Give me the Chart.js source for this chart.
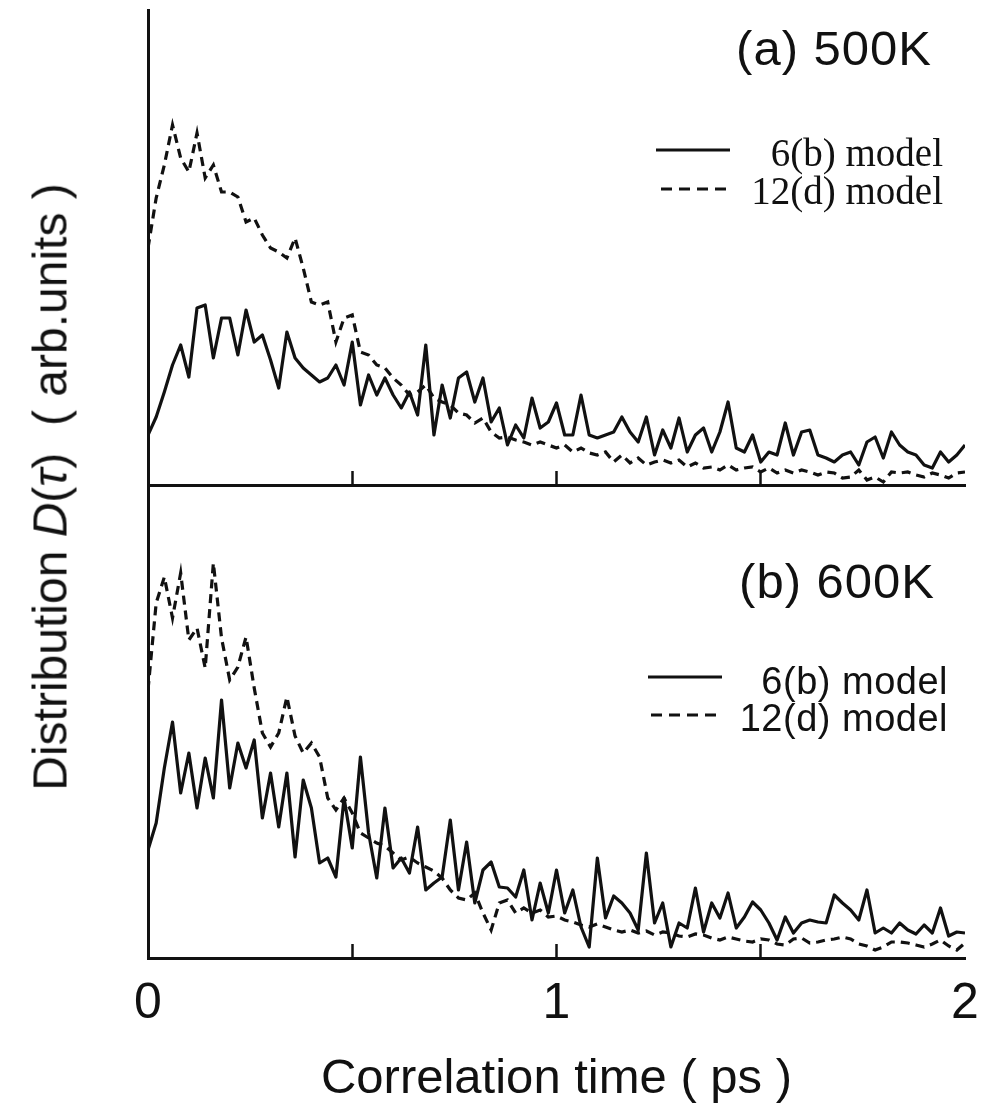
<!DOCTYPE html>
<html lang="en">
<head>
<meta charset="UTF-8">
<title>Distribution of correlation times</title>
<script src="https://cdn.jsdelivr.net/npm/chart.js"></script>
<style>
  body {
    margin: 0;
    background: #fff;
    color: #111;
    font-family: "Liberation Sans", Arial, sans-serif;
  }
  #wrap {
    position: relative;
    width: 989px;
    height: 1114px;
    overflow: hidden;
  }
  canvas {
    position: absolute;
    left: 0;
  }
  #topChart { top: 0; }
  #bottomChart { top: 485px; }
  .txt {
    position: absolute;
    white-space: nowrap;
    line-height: 1;
  }
  .panel { font-size: 49px; letter-spacing: 1px; }
  .serif { font-family: "Liberation Serif", "Times New Roman", serif; font-size: 39px; }
  .sans { font-size: 38px; letter-spacing: 0.5px; }
  .key { position: absolute; }
  #yTitle {
    position: absolute;
    left: 50px;
    top: 487px;
    transform: translate(-50%, -50%) rotate(-90deg);
    white-space: nowrap;
    font-size: 48px;
  }
</style>
</head>
<body>
<div id="wrap">
  <canvas id="topChart" width="989" height="490"></canvas>
  <canvas id="bottomChart" width="989" height="629"></canvas>

  <div id="yTitle">Distribution <i>D</i>(<i>τ</i>) &nbsp;( arb.units )</div>

  <div class="txt panel" style="right:57px; top:24px;">(a) 500K</div>
  <svg class="key" style="left:656px; top:148px;" width="74" height="4"><line x1="0" y1="2" x2="74" y2="2" stroke="#111" stroke-width="3"/></svg>
  <div class="txt serif" style="right:46px; top:133px;">6(b) model</div>
  <svg class="key" style="left:661px; top:187px;" width="70" height="4"><line x1="0" y1="2" x2="70" y2="2" stroke="#111" stroke-width="3" stroke-dasharray="11 7"/></svg>
  <div class="txt serif" style="right:46px; top:171px;">12(d) model</div>

  <div class="txt panel" style="right:54px; top:557px;">(b) 600K</div>
  <svg class="key" style="left:648px; top:675px;" width="74" height="4"><line x1="0" y1="2" x2="74" y2="2" stroke="#111" stroke-width="3"/></svg>
  <div class="txt sans" style="right:41px; top:662px;">6(b) model</div>
  <svg class="key" style="left:651px; top:713px;" width="68" height="4"><line x1="0" y1="2" x2="68" y2="2" stroke="#111" stroke-width="3" stroke-dasharray="11 7"/></svg>
  <div class="txt sans" style="right:41px; top:699px;">12(d) model</div>
</div>

<script>
  // samples every 0.02 ps, from 0 to 2 ps (arb. units)
  const STEP = 0.02;

  // (a) 500K
  const topSolid = [
    50, 68, 93, 120, 140, 108, 177, 180, 127, 167,
    167, 130, 175, 143, 150, 125, 97, 153, 127, 117,
    110, 103, 107, 120, 100, 143, 80, 110, 90, 107,
    90, 77, 93, 70, 140, 50, 100, 67, 107, 113,
    83, 107, 63, 77, 40, 60, 47, 87, 57, 63,
    82, 50, 50, 90, 50, 47, 50, 53, 68, 53,
    43, 68, 30, 55, 37, 67, 33, 50, 57, 33,
    53, 83, 37, 33, 50, 23, 33, 30, 62, 30,
    53, 55, 30, 27, 23, 30, 33, 20, 43, 48,
    27, 53, 40, 33, 30, 20, 17, 33, 23, 30,
    40
  ];
  const topDashed = [
    237, 287, 320, 360, 327, 313, 352, 307, 320, 293,
    293, 288, 263, 267, 250, 237, 233, 227, 247, 217,
    183, 180, 183, 143, 167, 170, 133, 130, 120, 117,
    107, 100, 90, 93, 100, 87, 83, 80, 72, 70,
    62, 67, 53, 47, 48, 45, 43, 40, 43, 40,
    37, 40, 33, 37, 32, 30, 33, 23, 30, 22,
    27, 20, 23, 25, 22, 25, 18, 22, 17, 18,
    15, 20, 15, 17, 18, 13, 17, 12, 15, 12,
    15, 13, 10, 13, 12, 7, 8, 15, 5, 8,
    3, 13, 12, 13, 10, 8, 12, 10, 7, 12,
    13
  ];

  // (b) 600K
  const bottomSolid = [
    108, 135, 190, 236, 165, 205, 150, 200, 160, 258,
    170, 215, 190, 218, 140, 185, 131, 185, 101, 178,
    150, 95, 100, 81, 160, 110, 201, 125, 80, 150,
    90, 100, 85, 131, 68, 75, 81, 138, 68, 116,
    55, 88, 96, 71, 70, 61, 88, 38, 75, 45,
    88, 45, 68, 31, 11, 100, 40, 62, 55, 45,
    28, 105, 35, 55, 11, 35, 30, 70, 26, 55,
    40, 65, 30, 41, 56, 48, 35, 18, 41, 25,
    35, 38, 36, 35, 63, 55, 48, 38, 68, 25,
    30, 25, 35, 28, 24, 33, 25, 50, 22, 26,
    25
  ];
  const bottomDashed = [
    268, 355, 381, 340, 385, 318, 330, 290, 395, 320,
    278, 291, 321, 270, 225, 211, 225, 261, 222, 205,
    215, 201, 160, 148, 160, 145, 125, 120, 115, 112,
    105, 98, 101, 95, 91, 87, 80, 68, 60, 58,
    65, 45, 28, 55, 58, 45, 50, 45, 48, 41,
    42, 38, 36, 33, 31, 34, 31, 28, 26, 28,
    25, 27, 23, 26, 25, 22, 21, 24, 23, 20,
    18, 21, 19, 17, 16, 19, 18, 14, 13, 19,
    20, 15, 16, 18, 19, 21, 19, 14, 12, 8,
    11, 16, 16, 15, 13, 11, 14, 18, 12, 8,
    15
  ];

  const seriesNames = ['6(b) model', '12(d) model'];
  const xTickValues = [0, 0.5, 1, 1.5, 2];
  const xTickLabels = ['0', '', '1', '', '2'];

  const INK = '#111';
  const FONT = '"Liberation Sans", Arial, sans-serif';

  function toPoints(values) {
    return values.map((v, i) => ({ x: Math.round(i * STEP * 100) / 100, y: v }));
  }

  function datasets(solid, dashed) {
    return [
      {
        label: seriesNames[0],
        data: toPoints(solid),
        borderColor: INK,
        borderWidth: 3.2,
        borderJoinStyle: 'round',
        pointRadius: 0,
        tension: 0
      },
      {
        label: seriesNames[1],
        data: toPoints(dashed),
        borderColor: INK,
        borderWidth: 3.2,
        borderDash: [9, 6],
        pointRadius: 0,
        tension: 0
      }
    ];
  }

  function makeOptions(yMax, isBottom) {
    return {
      responsive: false,
      animation: false,
      events: [],
      layout: { padding: { left: 0, top: isBottom ? 0 : 10, right: 24, bottom: 0 } },
      plugins: { legend: { display: false }, tooltip: { enabled: false } },
      scales: {
        x: {
          type: 'linear',
          min: 0,
          max: 2,
          afterBuildTicks: scale => {
            scale.ticks = xTickValues.map(v => ({ value: v }));
          },
          afterFit: scale => {
            scale.height = isBottom ? 156 : 5;
            // tick padding is only meant to push labels down, not to shrink the plot
            scale.paddingLeft = 0;
            scale.paddingRight = 0;
          },
          ticks: {
            display: isBottom,
            color: INK,
            padding: 30,
            maxRotation: 0,
            autoSkip: false,
            font: { family: FONT, size: 50 },
            callback: (value) => {
              const i = xTickValues.indexOf(value);
              return i >= 0 ? xTickLabels[i] : '';
            }
          },
          grid: {
            drawOnChartArea: false,
            drawTicks: true,
            tickLength: -14,
            tickWidth: 2.5,
            tickColor: ctx => {
              const v = ctx.tick ? ctx.tick.value : null;
              return (v === 0 || v === 2) ? 'rgba(0,0,0,0)' : INK;
            }
          },
          border: { display: true, color: INK, width: 3 },
          title: {
            display: isBottom,
            text: 'Correlation time ( ps )',
            color: INK,
            font: { family: FONT, size: 49, lineHeight: 1.2 },
            padding: { top: 0, bottom: 5 }
          }
        },
        y: {
          min: 0,
          max: yMax,
          afterFit: scale => { scale.width = 148; },
          ticks: { display: false },
          grid: { display: false },
          border: { display: true, color: INK, width: 3 }
        }
      }
    };
  }

  new Chart(document.getElementById('topChart'), {
    type: 'line',
    data: { datasets: datasets(topSolid, topDashed) },
    options: makeOptions(475, false)
  });

  new Chart(document.getElementById('bottomChart'), {
    type: 'line',
    data: { datasets: datasets(bottomSolid, bottomDashed) },
    options: makeOptions(473, true)
  });
</script>
</body>
</html>
